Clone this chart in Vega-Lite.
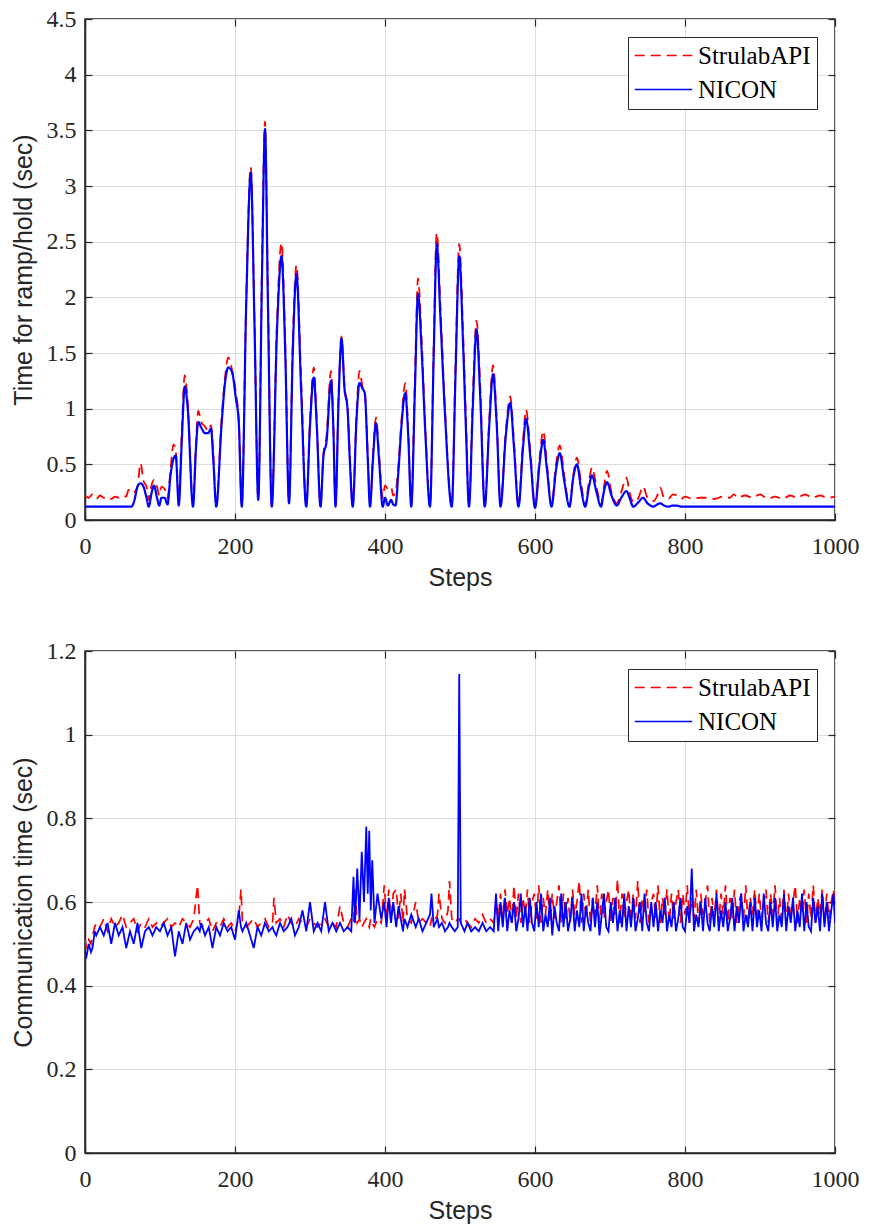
{
"$schema":"https://vega.github.io/schema/vega-lite/v6.json",
"padding":{"left":10,"top":6,"right":10,"bottom":2},
"config":{
"view":{"stroke":"#262626","strokeWidth":1.5},
"axis":{"labelFont":"Liberation Serif","labelFontSize":24,"labelColor":"#262626","titleFont":"Liberation Sans","titleFontSize":25,"titleFontWeight":"normal","titleColor":"#262626","gridColor":"#dcdcdc","gridWidth":1,"domainColor":"#262626","domainWidth":1.5,"tickColor":"#262626","tickSize":-7,"tickWidth":1.2,"labelFlush":false},
"legend":{"orient":"top-right","offset":18,"strokeColor":"#262626","fillColor":"white","padding":6,"labelFont":"Liberation Serif","labelFontSize":25,"labelColor":"black","symbolType":"stroke","symbolSize":3300,"symbolStrokeWidth":1.5,"labelOffset":5,"clipHeight":25,"rowPadding":8,"labelLimit":300}
},
"datasets":{
"top":[
{"x":0,"StrulabAPI":0.22,"NICON":0.12},{"x":5,"StrulabAPI":0.2,"NICON":0.12},{"x":10,"StrulabAPI":0.23,"NICON":0.12},{"x":15,"StrulabAPI":0.19,"NICON":0.12},{"x":20,"StrulabAPI":0.22,"NICON":0.12},{"x":25,"StrulabAPI":0.2,"NICON":0.12},{"x":30,"StrulabAPI":0.21,"NICON":0.12},{"x":35,"StrulabAPI":0.19,"NICON":0.12},{"x":40,"StrulabAPI":0.21,"NICON":0.12},{"x":45,"StrulabAPI":0.2,"NICON":0.12},{"x":50,"StrulabAPI":0.22,"NICON":0.12},{"x":55,"StrulabAPI":0.21,"NICON":0.12},{"x":58,"StrulabAPI":0.27,"NICON":0.12},{"x":62,"StrulabAPI":0.24,"NICON":0.12},{"x":66,"StrulabAPI":0.25,"NICON":0.18},{"x":70,"StrulabAPI":0.3,"NICON":0.3},{"x":74,"StrulabAPI":0.51,"NICON":0.33},{"x":78,"StrulabAPI":0.35,"NICON":0.3},{"x":82,"StrulabAPI":0.3,"NICON":0.2},{"x":85,"StrulabAPI":0.18,"NICON":0.12},{"x":89,"StrulabAPI":0.32,"NICON":0.25},{"x":92,"StrulabAPI":0.36,"NICON":0.31},{"x":96,"StrulabAPI":0.3,"NICON":0.2},{"x":99,"StrulabAPI":0.22,"NICON":0.13},{"x":102,"StrulabAPI":0.3,"NICON":0.2},{"x":106,"StrulabAPI":0.28,"NICON":0.2},{"x":110,"StrulabAPI":0.2,"NICON":0.14},{"x":114,"StrulabAPI":0.45,"NICON":0.4},{"x":118,"StrulabAPI":0.68,"NICON":0.55},{"x":121,"StrulabAPI":0.62,"NICON":0.58},{"x":125,"StrulabAPI":0.2,"NICON":0.13},{"x":129,"StrulabAPI":0.8,"NICON":0.7},{"x":133,"StrulabAPI":1.3,"NICON":1.2},{"x":137,"StrulabAPI":1.05,"NICON":1.0},{"x":144,"StrulabAPI":0.15,"NICON":0.12},{"x":148,"StrulabAPI":0.7,"NICON":0.65},{"x":151,"StrulabAPI":0.98,"NICON":0.88},{"x":155,"StrulabAPI":0.88,"NICON":0.83},{"x":160,"StrulabAPI":0.84,"NICON":0.78},{"x":164,"StrulabAPI":0.8,"NICON":0.78},{"x":168,"StrulabAPI":0.85,"NICON":0.82},{"x":171,"StrulabAPI":0.6,"NICON":0.55},{"x":175,"StrulabAPI":0.13,"NICON":0.12},{"x":182,"StrulabAPI":0.9,"NICON":0.85},{"x":187,"StrulabAPI":1.3,"NICON":1.25},{"x":191,"StrulabAPI":1.46,"NICON":1.37},{"x":196,"StrulabAPI":1.35,"NICON":1.33},{"x":201,"StrulabAPI":1.15,"NICON":1.1},{"x":205,"StrulabAPI":0.9,"NICON":0.88},{"x":209,"StrulabAPI":0.13,"NICON":0.12},{"x":215,"StrulabAPI":2.0,"NICON":1.95},{"x":221,"StrulabAPI":3.17,"NICON":3.12},{"x":226,"StrulabAPI":1.8,"NICON":1.75},{"x":231,"StrulabAPI":0.19,"NICON":0.18},{"x":236,"StrulabAPI":2.3,"NICON":2.2},{"x":240,"StrulabAPI":3.58,"NICON":3.51},{"x":244,"StrulabAPI":2.0,"NICON":1.9},{"x":249,"StrulabAPI":0.13,"NICON":0.12},{"x":256,"StrulabAPI":1.8,"NICON":1.7},{"x":262,"StrulabAPI":2.49,"NICON":2.37},{"x":267,"StrulabAPI":1.6,"NICON":1.5},{"x":272,"StrulabAPI":0.17,"NICON":0.15},{"x":277,"StrulabAPI":1.6,"NICON":1.5},{"x":282,"StrulabAPI":2.29,"NICON":2.21},{"x":288,"StrulabAPI":1.3,"NICON":1.2},{"x":295,"StrulabAPI":0.13,"NICON":0.12},{"x":300,"StrulabAPI":0.9,"NICON":0.85},{"x":305,"StrulabAPI":1.37,"NICON":1.28},{"x":309,"StrulabAPI":0.9,"NICON":0.85},{"x":314,"StrulabAPI":0.13,"NICON":0.12},{"x":318,"StrulabAPI":0.6,"NICON":0.58},{"x":322,"StrulabAPI":0.75,"NICON":0.7},{"x":328,"StrulabAPI":1.34,"NICON":1.25},{"x":331,"StrulabAPI":0.9,"NICON":0.85},{"x":334,"StrulabAPI":0.13,"NICON":0.12},{"x":338,"StrulabAPI":1.1,"NICON":1.05},{"x":342,"StrulabAPI":1.65,"NICON":1.63},{"x":346,"StrulabAPI":1.2,"NICON":1.18},{"x":350,"StrulabAPI":1.02,"NICON":1.0},{"x":353,"StrulabAPI":0.6,"NICON":0.55},{"x":357,"StrulabAPI":0.13,"NICON":0.12},{"x":362,"StrulabAPI":0.95,"NICON":0.9},{"x":366,"StrulabAPI":1.34,"NICON":1.23},{"x":370,"StrulabAPI":1.2,"NICON":1.18},{"x":373,"StrulabAPI":1.15,"NICON":1.14},{"x":377,"StrulabAPI":0.6,"NICON":0.55},{"x":380,"StrulabAPI":0.13,"NICON":0.12},{"x":384,"StrulabAPI":0.6,"NICON":0.55},{"x":388,"StrulabAPI":0.92,"NICON":0.87},{"x":392,"StrulabAPI":0.6,"NICON":0.55},{"x":397,"StrulabAPI":0.2,"NICON":0.12},{"x":400,"StrulabAPI":0.31,"NICON":0.2},{"x":404,"StrulabAPI":0.28,"NICON":0.13},{"x":408,"StrulabAPI":0.3,"NICON":0.18},{"x":411,"StrulabAPI":0.22,"NICON":0.14},{"x":414,"StrulabAPI":0.25,"NICON":0.13},{"x":418,"StrulabAPI":0.5,"NICON":0.45},{"x":422,"StrulabAPI":0.9,"NICON":0.85},{"x":427,"StrulabAPI":1.23,"NICON":1.14},{"x":431,"StrulabAPI":0.8,"NICON":0.75},{"x":435,"StrulabAPI":0.13,"NICON":0.12},{"x":440,"StrulabAPI":1.3,"NICON":1.2},{"x":444,"StrulabAPI":2.17,"NICON":2.03},{"x":449,"StrulabAPI":1.6,"NICON":1.5},{"x":454,"StrulabAPI":0.8,"NICON":0.75},{"x":460,"StrulabAPI":0.13,"NICON":0.12},{"x":465,"StrulabAPI":1.6,"NICON":1.5},{"x":469,"StrulabAPI":2.58,"NICON":2.48},{"x":474,"StrulabAPI":1.9,"NICON":1.8},{"x":480,"StrulabAPI":1.0,"NICON":0.95},{"x":489,"StrulabAPI":0.13,"NICON":0.12},{"x":494,"StrulabAPI":1.4,"NICON":1.3},{"x":499,"StrulabAPI":2.48,"NICON":2.37},{"x":504,"StrulabAPI":1.7,"NICON":1.6},{"x":508,"StrulabAPI":0.9,"NICON":0.8},{"x":512,"StrulabAPI":0.13,"NICON":0.12},{"x":517,"StrulabAPI":1.1,"NICON":1.0},{"x":522,"StrulabAPI":1.79,"NICON":1.71},{"x":527,"StrulabAPI":1.2,"NICON":1.1},{"x":533,"StrulabAPI":0.13,"NICON":0.12},{"x":539,"StrulabAPI":0.9,"NICON":0.85},{"x":544,"StrulabAPI":1.39,"NICON":1.31},{"x":549,"StrulabAPI":0.9,"NICON":0.85},{"x":554,"StrulabAPI":0.13,"NICON":0.12},{"x":561,"StrulabAPI":0.8,"NICON":0.75},{"x":567,"StrulabAPI":1.11,"NICON":1.05},{"x":572,"StrulabAPI":0.7,"NICON":0.65},{"x":578,"StrulabAPI":0.13,"NICON":0.12},{"x":584,"StrulabAPI":0.7,"NICON":0.65},{"x":588,"StrulabAPI":0.99,"NICON":0.91},{"x":594,"StrulabAPI":0.6,"NICON":0.55},{"x":600,"StrulabAPI":0.12,"NICON":0.11},{"x":606,"StrulabAPI":0.55,"NICON":0.5},{"x":611,"StrulabAPI":0.8,"NICON":0.72},{"x":616,"StrulabAPI":0.5,"NICON":0.45},{"x":622,"StrulabAPI":0.13,"NICON":0.12},{"x":628,"StrulabAPI":0.5,"NICON":0.45},{"x":633,"StrulabAPI":0.67,"NICON":0.6},{"x":639,"StrulabAPI":0.4,"NICON":0.35},{"x":646,"StrulabAPI":0.13,"NICON":0.12},{"x":651,"StrulabAPI":0.4,"NICON":0.38},{"x":656,"StrulabAPI":0.56,"NICON":0.5},{"x":661,"StrulabAPI":0.35,"NICON":0.3},{"x":667,"StrulabAPI":0.13,"NICON":0.12},{"x":672,"StrulabAPI":0.35,"NICON":0.3},{"x":676,"StrulabAPI":0.47,"NICON":0.4},{"x":682,"StrulabAPI":0.3,"NICON":0.25},{"x":688,"StrulabAPI":0.14,"NICON":0.12},{"x":692,"StrulabAPI":0.3,"NICON":0.26},{"x":696,"StrulabAPI":0.44,"NICON":0.34},{"x":702,"StrulabAPI":0.25,"NICON":0.22},{"x":709,"StrulabAPI":0.15,"NICON":0.13},{"x":715,"StrulabAPI":0.25,"NICON":0.2},{"x":722,"StrulabAPI":0.38,"NICON":0.26},{"x":726,"StrulabAPI":0.25,"NICON":0.2},{"x":731,"StrulabAPI":0.16,"NICON":0.12},{"x":738,"StrulabAPI":0.2,"NICON":0.16},{"x":744,"StrulabAPI":0.3,"NICON":0.2},{"x":750,"StrulabAPI":0.2,"NICON":0.15},{"x":758,"StrulabAPI":0.17,"NICON":0.12},{"x":763,"StrulabAPI":0.22,"NICON":0.14},{"x":767,"StrulabAPI":0.29,"NICON":0.15},{"x":772,"StrulabAPI":0.2,"NICON":0.13},{"x":778,"StrulabAPI":0.19,"NICON":0.12},{"x":784,"StrulabAPI":0.23,"NICON":0.13},{"x":789,"StrulabAPI":0.22,"NICON":0.13},{"x":795,"StrulabAPI":0.19,"NICON":0.12},{"x":800,"StrulabAPI":0.21,"NICON":0.12},{"x":810,"StrulabAPI":0.19,"NICON":0.12},{"x":820,"StrulabAPI":0.2,"NICON":0.12},{"x":830,"StrulabAPI":0.2,"NICON":0.12},{"x":840,"StrulabAPI":0.19,"NICON":0.12},{"x":850,"StrulabAPI":0.21,"NICON":0.12},{"x":860,"StrulabAPI":0.2,"NICON":0.12},{"x":865,"StrulabAPI":0.23,"NICON":0.12},{"x":870,"StrulabAPI":0.2,"NICON":0.12},{"x":880,"StrulabAPI":0.22,"NICON":0.12},{"x":890,"StrulabAPI":0.2,"NICON":0.12},{"x":900,"StrulabAPI":0.23,"NICON":0.12},{"x":910,"StrulabAPI":0.19,"NICON":0.12},{"x":920,"StrulabAPI":0.21,"NICON":0.12},{"x":930,"StrulabAPI":0.19,"NICON":0.12},{"x":940,"StrulabAPI":0.22,"NICON":0.12},{"x":950,"StrulabAPI":0.2,"NICON":0.12},{"x":960,"StrulabAPI":0.23,"NICON":0.12},{"x":970,"StrulabAPI":0.2,"NICON":0.12},{"x":980,"StrulabAPI":0.22,"NICON":0.12},{"x":990,"StrulabAPI":0.2,"NICON":0.12},{"x":1000,"StrulabAPI":0.21,"NICON":0.12}
],
"bot":[
{"x":0,"StrulabAPI":0.51,"NICON":0.48},{"x":2,"StrulabAPI":0.49,"NICON":0.47},{"x":5,"StrulabAPI":0.51,"NICON":0.5},{"x":8,"StrulabAPI":0.5,"NICON":0.48},{"x":10,"StrulabAPI":0.52,"NICON":0.49},{"x":13,"StrulabAPI":0.54,"NICON":0.53},{"x":15,"StrulabAPI":0.55,"NICON":0.52},{"x":20,"StrulabAPI":0.54,"NICON":0.54},{"x":25,"StrulabAPI":0.56,"NICON":0.52},{"x":30,"StrulabAPI":0.53,"NICON":0.55},{"x":35,"StrulabAPI":0.56,"NICON":0.5},{"x":40,"StrulabAPI":0.54,"NICON":0.55},{"x":45,"StrulabAPI":0.55,"NICON":0.52},{"x":50,"StrulabAPI":0.57,"NICON":0.54},{"x":55,"StrulabAPI":0.54,"NICON":0.49},{"x":60,"StrulabAPI":0.55,"NICON":0.53},{"x":65,"StrulabAPI":0.56,"NICON":0.5},{"x":70,"StrulabAPI":0.53,"NICON":0.55},{"x":75,"StrulabAPI":0.55,"NICON":0.49},{"x":80,"StrulabAPI":0.54,"NICON":0.53},{"x":85,"StrulabAPI":0.56,"NICON":0.54},{"x":90,"StrulabAPI":0.54,"NICON":0.52},{"x":95,"StrulabAPI":0.55,"NICON":0.54},{"x":100,"StrulabAPI":0.54,"NICON":0.53},{"x":105,"StrulabAPI":0.55,"NICON":0.55},{"x":110,"StrulabAPI":0.56,"NICON":0.52},{"x":115,"StrulabAPI":0.54,"NICON":0.54},{"x":120,"StrulabAPI":0.55,"NICON":0.47},{"x":125,"StrulabAPI":0.54,"NICON":0.53},{"x":130,"StrulabAPI":0.56,"NICON":0.5},{"x":135,"StrulabAPI":0.55,"NICON":0.55},{"x":140,"StrulabAPI":0.54,"NICON":0.51},{"x":145,"StrulabAPI":0.56,"NICON":0.53},{"x":150,"StrulabAPI":0.64,"NICON":0.54},{"x":153,"StrulabAPI":0.55,"NICON":0.53},{"x":155,"StrulabAPI":0.54,"NICON":0.55},{"x":160,"StrulabAPI":0.55,"NICON":0.52},{"x":165,"StrulabAPI":0.56,"NICON":0.54},{"x":170,"StrulabAPI":0.53,"NICON":0.49},{"x":175,"StrulabAPI":0.55,"NICON":0.54},{"x":180,"StrulabAPI":0.54,"NICON":0.52},{"x":185,"StrulabAPI":0.56,"NICON":0.55},{"x":190,"StrulabAPI":0.54,"NICON":0.53},{"x":195,"StrulabAPI":0.55,"NICON":0.54},{"x":200,"StrulabAPI":0.53,"NICON":0.51},{"x":205,"StrulabAPI":0.56,"NICON":0.58},{"x":208,"StrulabAPI":0.63,"NICON":0.54},{"x":210,"StrulabAPI":0.55,"NICON":0.53},{"x":215,"StrulabAPI":0.54,"NICON":0.55},{"x":220,"StrulabAPI":0.55,"NICON":0.52},{"x":225,"StrulabAPI":0.56,"NICON":0.49},{"x":230,"StrulabAPI":0.54,"NICON":0.54},{"x":235,"StrulabAPI":0.55,"NICON":0.52},{"x":240,"StrulabAPI":0.56,"NICON":0.55},{"x":245,"StrulabAPI":0.54,"NICON":0.53},{"x":250,"StrulabAPI":0.55,"NICON":0.54},{"x":252,"StrulabAPI":0.61,"NICON":0.53},{"x":255,"StrulabAPI":0.55,"NICON":0.52},{"x":260,"StrulabAPI":0.56,"NICON":0.55},{"x":265,"StrulabAPI":0.54,"NICON":0.53},{"x":270,"StrulabAPI":0.57,"NICON":0.54},{"x":275,"StrulabAPI":0.55,"NICON":0.56},{"x":280,"StrulabAPI":0.54,"NICON":0.52},{"x":285,"StrulabAPI":0.56,"NICON":0.54},{"x":290,"StrulabAPI":0.55,"NICON":0.58},{"x":295,"StrulabAPI":0.54,"NICON":0.53},{"x":300,"StrulabAPI":0.56,"NICON":0.6},{"x":305,"StrulabAPI":0.55,"NICON":0.53},{"x":310,"StrulabAPI":0.54,"NICON":0.55},{"x":315,"StrulabAPI":0.55,"NICON":0.53},{"x":320,"StrulabAPI":0.56,"NICON":0.6},{"x":325,"StrulabAPI":0.54,"NICON":0.53},{"x":330,"StrulabAPI":0.55,"NICON":0.55},{"x":335,"StrulabAPI":0.54,"NICON":0.53},{"x":340,"StrulabAPI":0.59,"NICON":0.55},{"x":345,"StrulabAPI":0.55,"NICON":0.53},{"x":350,"StrulabAPI":0.54,"NICON":0.54},{"x":355,"StrulabAPI":0.56,"NICON":0.53},{"x":358,"StrulabAPI":0.55,"NICON":0.66},{"x":360,"StrulabAPI":0.63,"NICON":0.55},{"x":363,"StrulabAPI":0.55,"NICON":0.68},{"x":366,"StrulabAPI":0.56,"NICON":0.56},{"x":369,"StrulabAPI":0.54,"NICON":0.72},{"x":372,"StrulabAPI":0.55,"NICON":0.6},{"x":375,"StrulabAPI":0.56,"NICON":0.78},{"x":377,"StrulabAPI":0.55,"NICON":0.62},{"x":379,"StrulabAPI":0.54,"NICON":0.77},{"x":381,"StrulabAPI":0.56,"NICON":0.58},{"x":383,"StrulabAPI":0.55,"NICON":0.7},{"x":386,"StrulabAPI":0.54,"NICON":0.55},{"x":390,"StrulabAPI":0.56,"NICON":0.62},{"x":395,"StrulabAPI":0.55,"NICON":0.56},{"x":399,"StrulabAPI":0.64,"NICON":0.6},{"x":402,"StrulabAPI":0.56,"NICON":0.54},{"x":405,"StrulabAPI":0.63,"NICON":0.61},{"x":408,"StrulabAPI":0.55,"NICON":0.55},{"x":411,"StrulabAPI":0.62,"NICON":0.6},{"x":415,"StrulabAPI":0.63,"NICON":0.54},{"x":418,"StrulabAPI":0.56,"NICON":0.59},{"x":421,"StrulabAPI":0.62,"NICON":0.56},{"x":424,"StrulabAPI":0.55,"NICON":0.53},{"x":426,"StrulabAPI":0.63,"NICON":0.56},{"x":430,"StrulabAPI":0.56,"NICON":0.54},{"x":435,"StrulabAPI":0.55,"NICON":0.57},{"x":441,"StrulabAPI":0.6,"NICON":0.54},{"x":445,"StrulabAPI":0.55,"NICON":0.56},{"x":450,"StrulabAPI":0.56,"NICON":0.53},{"x":455,"StrulabAPI":0.55,"NICON":0.55},{"x":460,"StrulabAPI":0.54,"NICON":0.57},{"x":462,"StrulabAPI":0.56,"NICON":0.62},{"x":465,"StrulabAPI":0.55,"NICON":0.54},{"x":470,"StrulabAPI":0.57,"NICON":0.56},{"x":472,"StrulabAPI":0.62,"NICON":0.54},{"x":476,"StrulabAPI":0.56,"NICON":0.55},{"x":480,"StrulabAPI":0.55,"NICON":0.53},{"x":484,"StrulabAPI":0.58,"NICON":0.54},{"x":486,"StrulabAPI":0.65,"NICON":0.55},{"x":489,"StrulabAPI":0.56,"NICON":0.54},{"x":493,"StrulabAPI":0.55,"NICON":0.53},{"x":497,"StrulabAPI":0.56,"NICON":0.54},{"x":499,"StrulabAPI":0.56,"NICON":1.145},{"x":501,"StrulabAPI":0.55,"NICON":0.55},{"x":506,"StrulabAPI":0.56,"NICON":0.53},{"x":510,"StrulabAPI":0.55,"NICON":0.55},{"x":515,"StrulabAPI":0.54,"NICON":0.53},{"x":520,"StrulabAPI":0.56,"NICON":0.54},{"x":525,"StrulabAPI":0.55,"NICON":0.53},{"x":530,"StrulabAPI":0.57,"NICON":0.55},{"x":535,"StrulabAPI":0.55,"NICON":0.53},{"x":540,"StrulabAPI":0.56,"NICON":0.54},{"x":545,"StrulabAPI":0.55,"NICON":0.53},
{"x":548,"StrulabAPI":0.6,"NICON":0.62},{"x":551,"StrulabAPI":0.56,"NICON":0.53},{"x":554,"StrulabAPI":0.62,"NICON":0.6},{"x":557,"StrulabAPI":0.55,"NICON":0.54},{"x":560,"StrulabAPI":0.63,"NICON":0.61},{"x":563,"StrulabAPI":0.57,"NICON":0.53},{"x":566,"StrulabAPI":0.61,"NICON":0.58},{"x":569,"StrulabAPI":0.55,"NICON":0.55},{"x":572,"StrulabAPI":0.64,"NICON":0.6},{"x":575,"StrulabAPI":0.56,"NICON":0.53},
{"x":578,"StrulabAPI":0.62,"NICON":0.56},{"x":581,"StrulabAPI":0.55,"NICON":0.62},{"x":584,"StrulabAPI":0.61,"NICON":0.54},{"x":587,"StrulabAPI":0.57,"NICON":0.59},{"x":590,"StrulabAPI":0.63,"NICON":0.53},{"x":593,"StrulabAPI":0.55,"NICON":0.61},{"x":596,"StrulabAPI":0.6,"NICON":0.55},{"x":599,"StrulabAPI":0.62,"NICON":0.53},{"x":602,"StrulabAPI":0.56,"NICON":0.6},{"x":605,"StrulabAPI":0.64,"NICON":0.54},
{"x":608,"StrulabAPI":0.55,"NICON":0.62},{"x":611,"StrulabAPI":0.61,"NICON":0.53},{"x":614,"StrulabAPI":0.57,"NICON":0.57},{"x":617,"StrulabAPI":0.63,"NICON":0.54},{"x":620,"StrulabAPI":0.55,"NICON":0.61},{"x":623,"StrulabAPI":0.62,"NICON":0.52},{"x":626,"StrulabAPI":0.56,"NICON":0.59},{"x":629,"StrulabAPI":0.6,"NICON":0.55},{"x":632,"StrulabAPI":0.64,"NICON":0.53},{"x":635,"StrulabAPI":0.55,"NICON":0.62},
{"x":638,"StrulabAPI":0.62,"NICON":0.54},{"x":641,"StrulabAPI":0.56,"NICON":0.6},{"x":644,"StrulabAPI":0.61,"NICON":0.53},{"x":647,"StrulabAPI":0.55,"NICON":0.56},{"x":650,"StrulabAPI":0.63,"NICON":0.61},{"x":653,"StrulabAPI":0.57,"NICON":0.53},{"x":656,"StrulabAPI":0.6,"NICON":0.58},{"x":659,"StrulabAPI":0.65,"NICON":0.54},{"x":662,"StrulabAPI":0.55,"NICON":0.62},{"x":665,"StrulabAPI":0.62,"NICON":0.53},
{"x":668,"StrulabAPI":0.56,"NICON":0.59},{"x":671,"StrulabAPI":0.63,"NICON":0.55},{"x":674,"StrulabAPI":0.55,"NICON":0.53},{"x":677,"StrulabAPI":0.61,"NICON":0.61},{"x":680,"StrulabAPI":0.57,"NICON":0.54},{"x":683,"StrulabAPI":0.64,"NICON":0.6},{"x":686,"StrulabAPI":0.55,"NICON":0.52},{"x":689,"StrulabAPI":0.62,"NICON":0.57},{"x":692,"StrulabAPI":0.56,"NICON":0.62},{"x":695,"StrulabAPI":0.6,"NICON":0.54},
{"x":698,"StrulabAPI":0.63,"NICON":0.53},{"x":701,"StrulabAPI":0.55,"NICON":0.6},{"x":704,"StrulabAPI":0.61,"NICON":0.55},{"x":707,"StrulabAPI":0.57,"NICON":0.61},{"x":710,"StrulabAPI":0.655,"NICON":0.53},{"x":713,"StrulabAPI":0.55,"NICON":0.58},{"x":716,"StrulabAPI":0.62,"NICON":0.54},{"x":719,"StrulabAPI":0.56,"NICON":0.62},{"x":722,"StrulabAPI":0.6,"NICON":0.53},{"x":725,"StrulabAPI":0.63,"NICON":0.59},
{"x":728,"StrulabAPI":0.55,"NICON":0.54},{"x":731,"StrulabAPI":0.62,"NICON":0.61},{"x":734,"StrulabAPI":0.56,"NICON":0.53},{"x":737,"StrulabAPI":0.65,"NICON":0.56},{"x":740,"StrulabAPI":0.55,"NICON":0.6},{"x":743,"StrulabAPI":0.61,"NICON":0.53},{"x":746,"StrulabAPI":0.57,"NICON":0.62},{"x":749,"StrulabAPI":0.63,"NICON":0.55},{"x":752,"StrulabAPI":0.55,"NICON":0.53},{"x":755,"StrulabAPI":0.6,"NICON":0.6},
{"x":758,"StrulabAPI":0.62,"NICON":0.54},{"x":761,"StrulabAPI":0.56,"NICON":0.6},{"x":764,"StrulabAPI":0.64,"NICON":0.53},{"x":767,"StrulabAPI":0.55,"NICON":0.58},{"x":770,"StrulabAPI":0.61,"NICON":0.55},{"x":773,"StrulabAPI":0.57,"NICON":0.61},{"x":776,"StrulabAPI":0.63,"NICON":0.53},{"x":779,"StrulabAPI":0.55,"NICON":0.57},{"x":782,"StrulabAPI":0.62,"NICON":0.54},{"x":785,"StrulabAPI":0.56,"NICON":0.6},
{"x":788,"StrulabAPI":0.6,"NICON":0.53},{"x":791,"StrulabAPI":0.63,"NICON":0.56},{"x":794,"StrulabAPI":0.55,"NICON":0.61},{"x":797,"StrulabAPI":0.62,"NICON":0.54},{"x":800,"StrulabAPI":0.57,"NICON":0.53},{"x":803,"StrulabAPI":0.64,"NICON":0.59},{"x":806,"StrulabAPI":0.55,"NICON":0.55},{"x":809,"StrulabAPI":0.61,"NICON":0.68},{"x":812,"StrulabAPI":0.56,"NICON":0.53},{"x":815,"StrulabAPI":0.63,"NICON":0.57},
{"x":818,"StrulabAPI":0.55,"NICON":0.54},{"x":821,"StrulabAPI":0.62,"NICON":0.6},{"x":824,"StrulabAPI":0.57,"NICON":0.53},{"x":827,"StrulabAPI":0.6,"NICON":0.61},{"x":830,"StrulabAPI":0.64,"NICON":0.55},{"x":833,"StrulabAPI":0.55,"NICON":0.53},{"x":836,"StrulabAPI":0.61,"NICON":0.59},{"x":839,"StrulabAPI":0.56,"NICON":0.54},{"x":842,"StrulabAPI":0.63,"NICON":0.62},{"x":845,"StrulabAPI":0.55,"NICON":0.53},
{"x":848,"StrulabAPI":0.62,"NICON":0.58},{"x":851,"StrulabAPI":0.57,"NICON":0.54},{"x":854,"StrulabAPI":0.64,"NICON":0.6},{"x":857,"StrulabAPI":0.55,"NICON":0.53},{"x":860,"StrulabAPI":0.61,"NICON":0.56},{"x":863,"StrulabAPI":0.56,"NICON":0.61},{"x":866,"StrulabAPI":0.63,"NICON":0.53},{"x":869,"StrulabAPI":0.55,"NICON":0.59},{"x":872,"StrulabAPI":0.6,"NICON":0.55},{"x":875,"StrulabAPI":0.62,"NICON":0.62},
{"x":878,"StrulabAPI":0.56,"NICON":0.53},{"x":881,"StrulabAPI":0.64,"NICON":0.57},{"x":884,"StrulabAPI":0.55,"NICON":0.54},{"x":887,"StrulabAPI":0.61,"NICON":0.6},{"x":890,"StrulabAPI":0.57,"NICON":0.53},{"x":893,"StrulabAPI":0.63,"NICON":0.61},{"x":896,"StrulabAPI":0.55,"NICON":0.54},{"x":899,"StrulabAPI":0.62,"NICON":0.58},{"x":902,"StrulabAPI":0.56,"NICON":0.53},{"x":905,"StrulabAPI":0.6,"NICON":0.62},
{"x":908,"StrulabAPI":0.63,"NICON":0.55},{"x":911,"StrulabAPI":0.55,"NICON":0.53},{"x":914,"StrulabAPI":0.62,"NICON":0.6},{"x":917,"StrulabAPI":0.57,"NICON":0.54},{"x":920,"StrulabAPI":0.64,"NICON":0.61},{"x":923,"StrulabAPI":0.55,"NICON":0.53},{"x":926,"StrulabAPI":0.61,"NICON":0.57},{"x":929,"StrulabAPI":0.56,"NICON":0.54},{"x":932,"StrulabAPI":0.63,"NICON":0.62},{"x":935,"StrulabAPI":0.55,"NICON":0.53},
{"x":938,"StrulabAPI":0.62,"NICON":0.59},{"x":941,"StrulabAPI":0.56,"NICON":0.55},{"x":944,"StrulabAPI":0.6,"NICON":0.61},{"x":947,"StrulabAPI":0.64,"NICON":0.53},{"x":950,"StrulabAPI":0.55,"NICON":0.58},{"x":953,"StrulabAPI":0.61,"NICON":0.54},{"x":956,"StrulabAPI":0.57,"NICON":0.62},{"x":959,"StrulabAPI":0.63,"NICON":0.53},{"x":962,"StrulabAPI":0.55,"NICON":0.6},{"x":965,"StrulabAPI":0.62,"NICON":0.54},
{"x":968,"StrulabAPI":0.56,"NICON":0.53},{"x":971,"StrulabAPI":0.64,"NICON":0.61},{"x":974,"StrulabAPI":0.55,"NICON":0.55},{"x":977,"StrulabAPI":0.61,"NICON":0.59},{"x":980,"StrulabAPI":0.57,"NICON":0.53},{"x":983,"StrulabAPI":0.63,"NICON":0.62},{"x":986,"StrulabAPI":0.55,"NICON":0.54},{"x":989,"StrulabAPI":0.62,"NICON":0.6},{"x":992,"StrulabAPI":0.56,"NICON":0.53},{"x":995,"StrulabAPI":0.6,"NICON":0.58},
{"x":998,"StrulabAPI":0.63,"NICON":0.62},{"x":1000,"StrulabAPI":0.57,"NICON":0.55}
]
},
"spacing":47,
"resolve":{"scale":{"color":"independent","strokeDash":"independent","x":"independent","y":"independent"}},
"vconcat":[
{
"width":750,"height":501,
"data":{"name":"top"},
"transform":[{"fold":["StrulabAPI","NICON"],"as":["series","value"]}],
"encoding":{
"x":{"field":"x","type":"quantitative","scale":{"domain":[0,1000],"nice":false},"axis":{"values":[0,200,400,600,800,1000],"format":"d","title":"Steps","labelPadding":21,"titlePadding":7}},
"y":{"field":"value","type":"quantitative","scale":{"domain":[0,4.5],"nice":false},"axis":{"values":[0,0.5,1,1.5,2,2.5,3,3.5,4,4.5],"format":"~g","title":"Time for ramp/hold (sec)","labelPadding":16,"titlePadding":10}},
"color":{"field":"series","type":"nominal","scale":{"domain":["StrulabAPI","NICON"],"range":["#ff0000","#0000ff"]},"legend":{"title":null}},
"strokeDash":{"field":"series","type":"nominal","scale":{"domain":["StrulabAPI","NICON"],"range":[[10,6],[1,0]]},"legend":{"title":null}}
},
"layer":[
{"transform":[{"filter":"datum.series == 'StrulabAPI'"}],"mark":{"type":"line","strokeWidth":1.8,"interpolate":"monotone","clip":true}},
{"transform":[{"filter":"datum.series == 'NICON'"}],"mark":{"type":"line","strokeWidth":2.2,"interpolate":"monotone","clip":true},
"encoding":{
"x":{"field":"x","type":"quantitative","scale":{"domain":[0,1000],"nice":false},"axis":{"orient":"top","values":[0,200,400,600,800,1000],"labels":false,"title":null,"grid":false,"domain":false}},
"y":{"field":"value","type":"quantitative","scale":{"domain":[0,4.5],"nice":false},"axis":{"orient":"right","values":[0,0.5,1,1.5,2,2.5,3,3.5,4,4.5],"labels":false,"title":null,"grid":false,"domain":false}}
}}
],
"resolve":{"axis":{"x":"independent","y":"independent"}}
},
{
"width":750,"height":502,
"data":{"name":"bot"},
"transform":[{"fold":["StrulabAPI","NICON"],"as":["series","value"]}],
"encoding":{
"x":{"field":"x","type":"quantitative","scale":{"domain":[0,1000],"nice":false},"axis":{"values":[0,200,400,600,800,1000],"format":"d","title":"Steps","labelPadding":21,"titlePadding":7}},
"y":{"field":"value","type":"quantitative","scale":{"domain":[0,1.2],"nice":false},"axis":{"values":[0,0.2,0.4,0.6,0.8,1,1.2],"format":"~g","title":"Communication time (sec)","labelPadding":16,"titlePadding":10}},
"color":{"field":"series","type":"nominal","scale":{"domain":["StrulabAPI","NICON"],"range":["#ff0000","#0000ff"]},"legend":{"title":null}},
"strokeDash":{"field":"series","type":"nominal","scale":{"domain":["StrulabAPI","NICON"],"range":[[10,6],[1,0]]},"legend":{"title":null}}
},
"layer":[
{"transform":[{"filter":"datum.series == 'StrulabAPI'"}],"mark":{"type":"line","strokeWidth":1.7,"clip":true}},
{"transform":[{"filter":"datum.series == 'NICON'"}],"mark":{"type":"line","strokeWidth":1.8,"clip":true},
"encoding":{
"x":{"field":"x","type":"quantitative","scale":{"domain":[0,1000],"nice":false},"axis":{"orient":"top","values":[0,200,400,600,800,1000],"labels":false,"title":null,"grid":false,"domain":false}},
"y":{"field":"value","type":"quantitative","scale":{"domain":[0,1.2],"nice":false},"axis":{"orient":"right","values":[0,0.2,0.4,0.6,0.8,1,1.2],"labels":false,"title":null,"grid":false,"domain":false}}
}}
],
"resolve":{"axis":{"x":"independent","y":"independent"}}
}
]
}
